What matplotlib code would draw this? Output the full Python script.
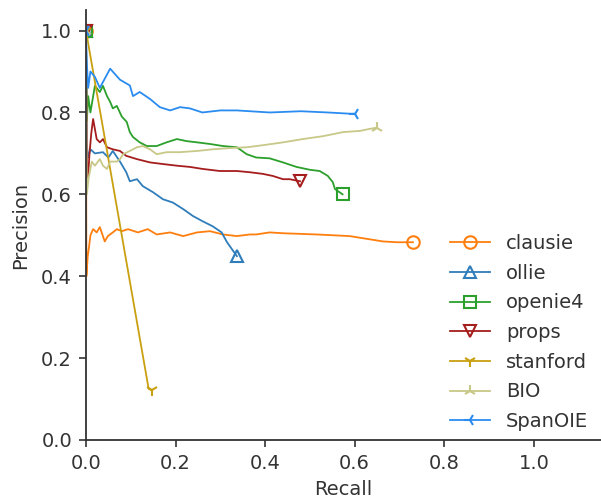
import matplotlib
matplotlib.use("Agg")
import matplotlib.pyplot as plt

names = ["clausie", "ollie", "openie4", "props", "stanford", "BIO", "SpanOIE"]

clausie_r = [0.0, 0.001, 0.004, 0.007, 0.010, 0.016, 0.024, 0.031, 0.042, 0.049, 0.060, 0.069, 0.080,
             0.094, 0.116, 0.138, 0.158, 0.188, 0.217, 0.248, 0.277, 0.306, 0.337, 0.366, 0.380,
             0.410, 0.440, 0.515, 0.589, 0.663, 0.694, 0.730]
clausie_p = [1.0, 0.40, 0.449, 0.473, 0.50, 0.515, 0.507, 0.520, 0.485, 0.498, 0.507, 0.515, 0.510,
             0.515, 0.507, 0.515, 0.502, 0.507, 0.498, 0.507, 0.510, 0.502, 0.498, 0.502, 0.502,
             0.507, 0.505, 0.502, 0.498, 0.485, 0.483, 0.483]

ollie_r = [0.0, 0.002, 0.005, 0.010, 0.020, 0.038, 0.050, 0.060, 0.076, 0.090, 0.098, 0.114, 0.127,
           0.150, 0.172, 0.194, 0.217, 0.239, 0.261, 0.283, 0.303, 0.315, 0.326, 0.337]
ollie_p = [1.0, 0.72, 0.69, 0.71, 0.700, 0.703, 0.69, 0.706, 0.680, 0.654, 0.632, 0.637, 0.620,
           0.605, 0.588, 0.580, 0.564, 0.547, 0.534, 0.522, 0.507, 0.483, 0.466, 0.449]

openie4_r = [0.0, 0.002, 0.005, 0.010, 0.020, 0.031, 0.038, 0.047, 0.054, 0.060, 0.069, 0.080, 0.091,
             0.098, 0.105, 0.120, 0.136, 0.158, 0.180, 0.203, 0.225, 0.248, 0.277, 0.306, 0.337,
             0.359, 0.380, 0.410, 0.440, 0.470, 0.500, 0.522, 0.540, 0.551, 0.556, 0.573]
openie4_p = [1.0, 0.78, 0.84, 0.80, 0.865, 0.850, 0.865, 0.840, 0.826, 0.810, 0.816, 0.790, 0.777,
             0.752, 0.740, 0.727, 0.718, 0.718, 0.727, 0.735, 0.730, 0.727, 0.723, 0.718, 0.715,
             0.698, 0.690, 0.688, 0.678, 0.667, 0.660, 0.657, 0.645, 0.630, 0.613, 0.600]

props_r = [0.0, 0.002, 0.004, 0.008, 0.012, 0.016, 0.024, 0.031, 0.038, 0.047, 0.060, 0.076, 0.090,
           0.114, 0.143, 0.172, 0.203, 0.232, 0.261, 0.299, 0.337, 0.366, 0.395, 0.417, 0.440,
           0.455, 0.478]
props_p = [1.0, 0.70, 0.63, 0.70, 0.75, 0.784, 0.735, 0.727, 0.735, 0.715, 0.710, 0.706, 0.694,
           0.686, 0.678, 0.674, 0.670, 0.667, 0.662, 0.657, 0.657, 0.654, 0.650, 0.645, 0.637,
           0.637, 0.632]

stanford_r = [0.0, 0.140, 0.147]
stanford_p = [1.0, 0.125, 0.121]

bio_r = [0.0, 0.002, 0.006, 0.013, 0.020, 0.031, 0.038, 0.047, 0.054, 0.069, 0.076, 0.083, 0.098,
         0.114, 0.127, 0.143, 0.158, 0.180, 0.210, 0.248, 0.283, 0.321, 0.359, 0.395, 0.440,
         0.484, 0.529, 0.574, 0.612, 0.634, 0.650]
bio_p = [1.0, 0.60, 0.64, 0.680, 0.670, 0.686, 0.670, 0.662, 0.680, 0.680, 0.686, 0.698, 0.706,
         0.715, 0.718, 0.710, 0.698, 0.703, 0.703, 0.706, 0.710, 0.713, 0.715, 0.720, 0.727,
         0.735, 0.742, 0.752, 0.755, 0.760, 0.763]

spanoie_r = [0.0, 0.002, 0.005, 0.010, 0.020, 0.031, 0.054, 0.076, 0.098, 0.105, 0.120, 0.143, 0.165,
             0.188, 0.210, 0.232, 0.260, 0.300, 0.337, 0.410, 0.480, 0.540, 0.589, 0.600]
spanoie_p = [1.0, 0.92, 0.86, 0.90, 0.887, 0.860, 0.907, 0.880, 0.866, 0.840, 0.850, 0.833, 0.813,
             0.805, 0.813, 0.810, 0.800, 0.805, 0.805, 0.800, 0.803, 0.800, 0.797, 0.797]

recalls = [clausie_r, ollie_r, openie4_r, props_r, stanford_r, bio_r, spanoie_r]
precisions = [clausie_p, ollie_p, openie4_p, props_p, stanford_p, bio_p, spanoie_p]
markers = ["o", "^", "s", "v", "1", "2", "3"]
colors = ["#ff7f0e", "#2f7dbb", "#2ca02c", "#a51d1d", "#c9a010", "#c8c888", "#2a8cf0"]

fig = plt.figure(figsize=(6.01, 5.01), dpi=100)
ax = fig.add_axes([0.143, 0.1218, 0.857, 0.858])

for r, p, m, c, n in zip(recalls, precisions, markers, colors, names):
    ax.plot(r, p, color=c, marker=m, markevery=[0, len(r) - 1], markersize=9,
            markerfacecolor="none", markeredgewidth=1.5, linewidth=1.3, label=n)

ax.set_xlim(0, 1.15)
ax.set_ylim(0, 1.05)
ax.set_xticks([0.0, 0.2, 0.4, 0.6, 0.8, 1.0])
ax.set_yticks([0.0, 0.2, 0.4, 0.6, 0.8, 1.0])
ax.spines["top"].set_visible(False)
ax.spines["right"].set_visible(False)
for s in ["left", "bottom"]:
    ax.spines[s].set_linewidth(1.3)
    ax.spines[s].set_color("#333333")
ax.tick_params(labelsize=14, colors="#333333", length=5, width=1.2, pad=5)
ax.set_xlabel("Recall", fontsize=14, color="#333333", labelpad=5)
ax.set_ylabel("Precision", fontsize=14, color="#333333", labelpad=8)

leg = ax.legend(loc="center left", bbox_to_anchor=(0.691, 0.25), frameon=False,
                fontsize=14, borderaxespad=0, handlelength=2.1, labelspacing=0.55)
for t in leg.get_texts():
    t.set_color("#333333")

fig.savefig("out.png", dpi=100)
